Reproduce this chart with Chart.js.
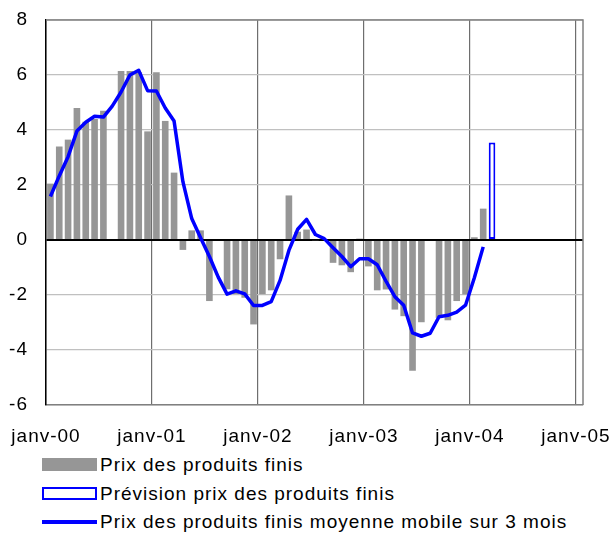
<!DOCTYPE html>
<html>
<head>
<meta charset="utf-8">
<script src="https://cdn.jsdelivr.net/npm/chart.js@4/dist/chart.umd.min.js"></script>
<style>
  body { margin: 0; background: #fff; font-family: "Liberation Sans", Arial, sans-serif; }
  #wrap { position: relative; width: 616px; height: 535px; }
  #legend { position: absolute; left: 0; top: 450px; width: 616px; }
  .item { position: absolute; left: 42px; height: 24px; font-size: 19px; color: #000; white-space: nowrap; letter-spacing: 1px; }
  .item .mark { position: absolute; left: 0; width: 55px; box-sizing: border-box; }
  .item span.txt { position: absolute; left: 58px; top: 0; line-height: 24px; }
</style>
</head>
<body>
<div id="wrap">
  <canvas id="graph" width="616" height="450"></canvas>
  <div id="legend"></div>
</div>
<script>
// monthly values, janv-00 .. févr-04 (no survey in August -> null)
const barValues = [
  2.05, 3.4, 3.65, 4.8, 4.3, 4.4, 4.7, null, 6.15, 6.15, 6.1, 3.95,
  6.1, 4.33, 2.45, -0.36, 0.35, 0.35, -2.22, null, -1.79, -1.97, -2.1, -3.07,
  -1.97, -1.83, -0.7, 1.62, 0.3, 0.38, -0.03, null, -0.83, -0.92, -1.17, 0.05,
  -0.96, -1.83, -1.8, -2.53, -2.77, -4.75, -2.99, null, -2.83, -2.92, -2.22, -1.98,
  0.1, 1.14
];
// forecast for mars-04
const forecastMonth = 50;
const forecastValue = 3.55;
// 3-month moving average
const avgValues = [
  1.58, 2.33, 3.03, 3.96, 4.28, 4.5, 4.47, 4.87, 5.38, 6.0, 6.17, 5.43,
  5.42, 4.8, 4.33, 2.12, 0.78, 0.08, -0.6, -1.35, -1.97, -1.85, -1.96, -2.38,
  -2.38, -2.24, -1.47, -0.38, 0.39, 0.75, 0.2, 0.05, -0.28, -0.6, -0.97, -0.68,
  -0.68, -0.9, -1.5, -2.06, -2.37, -3.38, -3.5, -3.39, -2.79, -2.74, -2.62, -2.37,
  -1.37, -0.25
];
const xTickLabels = ['janv-00', 'janv-01', 'janv-02', 'janv-03', 'janv-04', 'janv-05'];
const yTicks = [-6, -4, -2, 0, 2, 4, 6, 8];
const seriesNames = [
  'Prix des produits finis',
  'Prévision prix des produits finis',
  'Prix des produits finis moyenne mobile sur 3 mois'
];

const grey = '#969696';
const blue = '#0000ff';
const fontSpec = { family: '"Liberation Sans", Arial, sans-serif', size: 19 };

// wider text like the original, and the top/right edges of the frame
const framePlugin = {
  id: 'frame',
  beforeInit(chart) { chart.ctx.letterSpacing = '1px'; },
  beforeDraw(chart) { chart.ctx.letterSpacing = '1px'; },
  beforeDatasetsDraw(chart) {
    const { ctx, chartArea: a } = chart;
    ctx.save();
    ctx.strokeStyle = '#808080';
    ctx.lineWidth = 1.5;
    ctx.beginPath();
    ctx.moveTo(a.left, a.top);
    ctx.lineTo(a.right, a.top);
    ctx.lineTo(a.right, a.bottom);
    ctx.stroke();
    ctx.restore();
  }
};

// let the layout padding alone decide where the plot sits
function noLabelPadding(scale) {
  scale.paddingTop = 0;
  scale.paddingBottom = 0;
  scale.paddingLeft = 0;
  scale.paddingRight = 0;
}

const ctx = document.getElementById('graph').getContext('2d');
const chart = new Chart(ctx, {
  data: {
    datasets: [{
      type: 'line',
      label: seriesNames[2],
      data: avgValues.map((v, i) => ({ x: i + 0.5, y: v })),
      borderColor: blue,
      borderWidth: 3.5,
      pointRadius: 0,
      tension: 0,
      borderJoinStyle: 'round',
      order: 0
    }, {
      type: 'bar',
      label: seriesNames[0],
      data: barValues.map((v, i) => ({ x: i + 0.5, y: v })),
      backgroundColor: grey,
      borderWidth: 0,
      grouped: false,
      barPercentage: 0.75,
      categoryPercentage: 1,
      order: 2
    }, {
      type: 'bar',
      label: seriesNames[1],
      data: [{ x: forecastMonth + 0.5, y: forecastValue }],
      backgroundColor: '#ffffff',
      borderColor: blue,
      borderWidth: 2,
      borderSkipped: false,
      grouped: false,
      barPercentage: 0.75,
      categoryPercentage: 1,
      order: 1
    }]
  },
  options: {
    responsive: false,
    animation: false,
    layout: { padding: { top: 20, right: 33, left: 0, bottom: 0 } },
    plugins: { legend: { display: false }, tooltip: { enabled: false } },
    scales: {
      x: {
        type: 'linear',
        offset: false,
        min: 0,
        max: 60.8,
        afterBuildTicks: (scale) => {
          scale.ticks = xTickLabels.map((t, i) => ({ value: i * 12 }));
        },
        afterFit: (scale) => { scale.height = 45; noLabelPadding(scale); },
        ticks: {
          callback: (v) => xTickLabels[Math.round(v / 12)],
          font: fontSpec,
          color: '#000',
          padding: 20,
          maxRotation: 0,
          autoSkip: false
        },
        grid: { offset: false, color: '#6e6e6e', lineWidth: 1.2, drawTicks: false },
        border: { color: '#808080', width: 1.5 }
      },
      y: {
        min: -6,
        max: 8,
        afterBuildTicks: (scale) => {
          scale.ticks = yTicks.map(v => ({ value: v }));
        },
        afterFit: (scale) => { scale.width = 46; noLabelPadding(scale); },
        ticks: { font: fontSpec, color: '#000', padding: 18 },
        grid: {
          drawTicks: false,
          color: (c) => c.tick.value === 0 ? '#000' : '#c0c0c0',
          lineWidth: (c) => c.tick.value === 0 ? 2 : 1.2
        },
        border: { color: '#000', width: 1.5 }
      }
    }
  },
  plugins: [framePlugin]
});

// legend below the chart, one line per series
const legend = document.getElementById('legend');
const rows = [
  { top: 3, mark: 'height:13px;top:5px;background:' + grey + ';' },
  { top: 32, mark: 'height:13px;top:5px;border:2px solid ' + blue + ';background:#fff;' },
  { top: 60, mark: 'height:3.5px;top:10px;background:' + blue + ';' }
];
rows.forEach((r, i) => {
  const div = document.createElement('div');
  div.className = 'item';
  div.style.top = r.top + 'px';
  div.innerHTML = '<div class="mark" style="' + r.mark + '"></div><span class="txt">' + seriesNames[i] + '</span>';
  legend.appendChild(div);
});
</script>
</body>
</html>
